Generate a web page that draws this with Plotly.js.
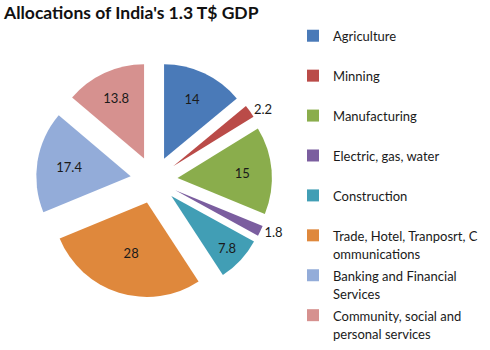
<!DOCTYPE html>
<html>
<head>
<meta charset="utf-8">
<script src="https://cdn.plot.ly/plotly-3.0.1.min.js"></script>
<style>html,body{margin:0;padding:0;background:#fff;}#chart{width:490px;height:350px;}</style>
</head>
<body>
<div id="chart"></div>
<script>
var categories = ["Agriculture", "Minning", "Manufacturing", "Electric, gas, water", "Construction",
  "Trade, Hotel, Tranposrt, C<br>ommunications", "Banking and Financial<br>Services", "Community, social and<br>personal services"];
var values = [14, 2.2, 15, 1.8, 7.8, 28, 17.4, 13.8];
var colors = ["#4A7AB8", "#BA4B48", "#8AAD4C", "#7B5E9F", "#419EB5", "#DF883C", "#93ACD9", "#D6918F"];
var textPositions = ["inside", "outside", "inside", "outside", "inside", "inside", "inside", "inside"];

function legendLabel(s) {
  var parts = s.split("<br>");
  var out = parts.map(function(p){ return '<span style="font-size:13px">' + p + '</span>'; });
  if (out.length < 2) out.push(" ");
  return out.join("<br>");
}

var data = [{
  type: "pie",
  labels: categories.map(legendLabel),
  values: values,
  sort: false,
  direction: "clockwise",
  rotation: 0,
  pull: values.map(function(){ return 0.25; }),
  marker: {colors: colors, line: {width: 0}},
  textinfo: "value",
  textposition: textPositions,
  insidetextorientation: "horizontal",
  insidetextfont: {family: "Lato, sans-serif", size: 13, color: "#1a1a1a"},
  outsidetextfont: {family: "Lato, sans-serif", size: 13, color: "#1a1a1a"},
  hoverinfo: "label+value",
  domain: {x: [34/490, 274/490], y: [52/350, 288/350]}
}];

var layout = {
  width: 490, height: 350,
  margin: {l: 0, r: 0, t: 0, b: 0},
  paper_bgcolor: "#ffffff",
  title: {text: "<b>Allocations of India's 1.3 T$ GDP</b>", x: 4/490, xanchor: "left", y: 1 - 13/350, yanchor: "middle",
          font: {family: "Lato, sans-serif", size: 17.5, color: "#111111"}},
  showlegend: true,
  legend: {
    x: 293/490, xanchor: "left", y: 1 - 20/350, yanchor: "top",
    font: {family: "Lato, sans-serif", size: 14.2, color: "#1a1a1a"},
    valign: "top", traceorder: "normal", bgcolor: "rgba(0,0,0,0)"
  }
};

Plotly.newPlot("chart", data, layout, {displayModeBar: false, staticPlot: true});
</script>
</body>
</html>
